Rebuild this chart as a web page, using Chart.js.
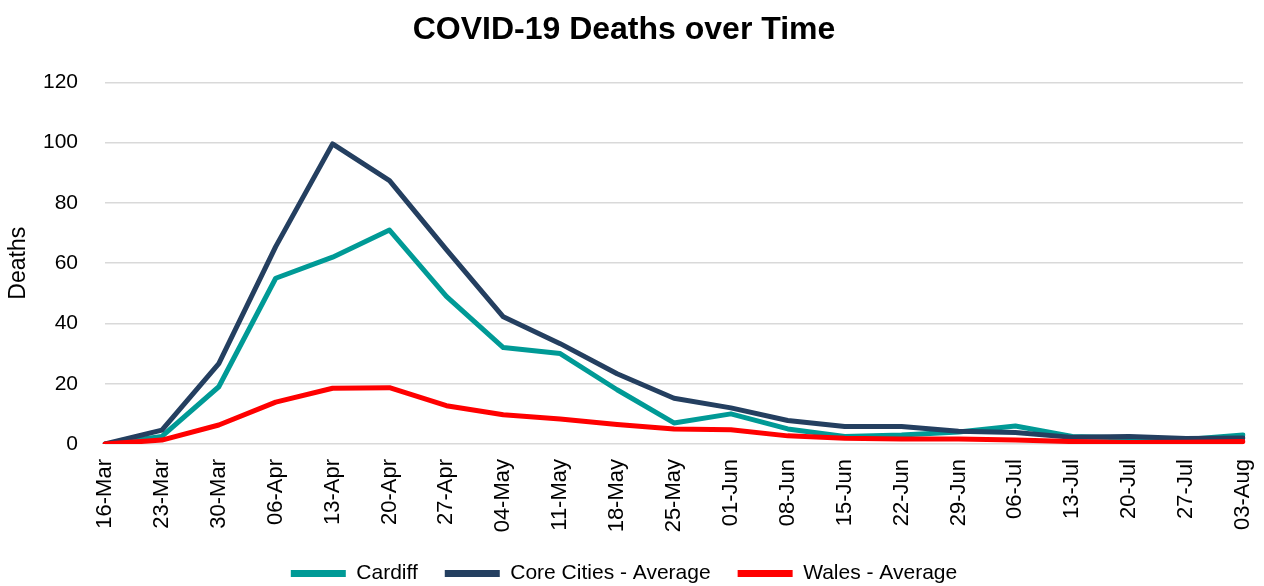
<!DOCTYPE html>
<html>
<head>
<meta charset="utf-8">
<script src="https://cdn.jsdelivr.net/npm/chart.js@4"></script>
<style>
  html, body { margin: 0; padding: 0; background: #fff; }
  #wrap { width: 1264px; height: 586px; }
</style>
</head>
<body>
<div id="wrap"><canvas id="chart" width="1264" height="586"></canvas></div>
<script>
var weeks = ["16-Mar", "23-Mar", "30-Mar", "06-Apr", "13-Apr", "20-Apr", "27-Apr", "04-May", "11-May", "18-May", "25-May",
  "01-Jun", "08-Jun", "15-Jun", "22-Jun", "29-Jun", "06-Jul", "13-Jul", "20-Jul", "27-Jul", "03-Aug"];
var cardiff = [0, 2.5, 19, 55, 62, 71, 49, 32, 30, 18, 7, 10, 5, 2.5, 3, 4, 6, 2.5, 2, 1.5, 3];
var coreCities = [0, 4.6, 26.7, 65.5, 99.6, 87.4, 64.5, 42.2, 33.3, 23.3, 15.2, 12, 7.8, 5.8, 5.8, 4.2, 3.8, 2.2, 2.5, 1.8, 2];
var wales = [0, 1.3, 6.3, 13.9, 18.5, 18.7, 12.7, 9.7, 8.3, 6.5, 5, 4.7, 2.7, 1.9, 1.7, 1.7, 1.3, 0.8, 0.5, 0.6, 0.8];
var yTicks = [0, 20, 40, 60, 80, 100, 120];

var font = "'Liberation Sans', Arial, sans-serif";

function series(label, data, colour, order) {
  return {
    label: label,
    data: data,
    borderColor: colour,
    backgroundColor: colour,
    borderWidth: 5,
    borderCapStyle: "round",
    borderJoinStyle: "round",
    pointRadius: 0,
    tension: 0,
    order: order, // Wales drawn on top, like the original
  };
}

const ctx = document.getElementById("chart").getContext("2d");

new Chart(ctx, {
  type: "line",
  data: {
    labels: weeks,
    datasets: [
      series("Cardiff", cardiff, "#009a96", 2),
      series("Core Cities - Average", coreCities, "#243f60", 1),
      series("Wales - Average", wales, "#ff0000", 0),
    ],
  },
  options: {
    responsive: false,
    animation: false,
    layout: { padding: { top: 8, left: 5, right: 21, bottom: -8 } },
    plugins: {
      title: {
        display: true,
        text: "COVID-19 Deaths over Time",
        color: "#000",
        font: { family: font, size: 32, weight: "bold" },
        padding: { top: 3, bottom: 33 },
      },
      legend: {
        position: "bottom",
        labels: {
          usePointStyle: true,
          pointStyle: "line",
          pointStyleWidth: 55,
          color: "#000",
          padding: 27,
          font: { family: font, size: 21, lineHeight: 1.0 },
          sort: (a, b) => a.datasetIndex - b.datasetIndex,
          generateLabels: (chart) => {
            let items = Chart.defaults.plugins.legend.labels.generateLabels(chart);
            items.forEach((item) => { item.lineWidth = 7; });
            return items;
          },
        },
      },
      tooltip: { enabled: false },
    },
    scales: {
      x: {
        offset: false,
        grid: { display: false, drawTicks: false },
        border: { display: false },
        ticks: {
          color: "#000",
          maxRotation: 90,
          minRotation: 90,
          autoSkip: false,
          padding: 15,
          font: { family: font, size: 22 },
        },
        afterFit: (scale) => {
          scale.height = 92;
          scale.paddingLeft = 0;
          scale.paddingRight = 0;
        },
      },
      y: {
        min: 0,
        max: 120,
        afterBuildTicks: (scale) => { scale.ticks = yTicks.map((v) => ({ value: v })); },
        grid: { color: "#d9d9d9", lineWidth: 1.5, drawTicks: false },
        border: { display: false },
        ticks: {
          color: "#000",
          padding: 27,
          font: { family: font, size: 21 },
        },
        title: {
          display: true,
          text: "Deaths",
          color: "#000",
          font: { family: font, size: 23 },
          padding: 0,
        },
        afterFit: (scale) => { scale.width = 100; },
      },
    },
  },
});
</script>
</body>
</html>
